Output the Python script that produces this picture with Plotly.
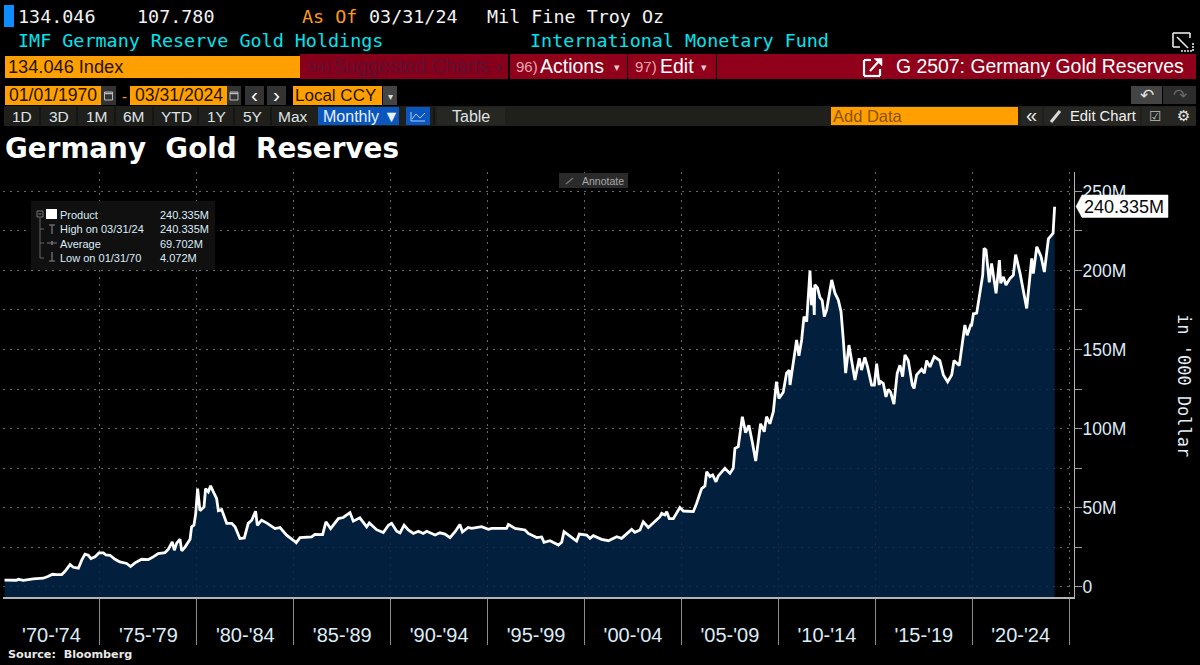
import plotly.graph_objects as go

# ---- data -----------------------------------------------------------------
reserve_years = [
 1970.08,1970.70,1970.79,1971.05,1971.56,1972.08,1972.34,1972.56,1972.77,1973.03,1973.20,1973.46,1973.63,1973.89,
 1974.06,1974.23,1974.40,1974.54,1974.75,1974.95,1975.18,1975.31,1975.52,1975.78,1976.03,1976.38,1976.58,1976.81,
 1977.15,1977.50,1977.75,1978.01,1978.36,1978.53,1978.73,1978.84,1978.96,1979.13,1979.22,1979.39,1979.65,1979.73,
 1979.85,1979.94,1980.04,1980.16,1980.37,1980.45,1980.59,1980.71,1980.85,1981.02,1981.11,1981.28,1981.54,1981.80,
 1981.97,1982.22,1982.45,1982.65,1982.83,1983.03,1983.12,1983.34,1983.60,1984.03,1984.29,1984.63,1984.98,1985.13,
 1985.32,1985.58,1985.92,1986.09,1986.49,1986.66,1986.90,1987.30,1987.55,1987.90,1988.07,1988.41,1988.76,1988.90,
 1989.27,1989.62,1989.88,1990.05,1990.31,
 1990.48,1990.69,1990.91,1991.17,1991.43,1991.68,1991.86,1992.29,1992.54,1992.80,1993.06,1993.32,1993.57,1993.70,
 1994.00,1994.18,1994.69,1995.04,1995.21,1995.98,1996.07,1996.41,1996.93,1997.10,1997.53,1997.79,1997.91,1998.22,
 1998.65,1998.82,1998.94,1999.16,1999.59,1999.73,2000.11,2000.28,2000.45,2000.88,2001.23,2001.66,2001.91,2002.43,
 2002.60,2002.86,2003.03,2003.29,2003.63,2003.89,2003.98,2004.15,2004.24,2004.37,2004.58,2004.92,2005.10,2005.61,
 2005.78,2006.04,2006.21,2006.30,2006.47,2006.61,2006.78,2006.90,2007.24,2007.50,2007.67,2007.76,2007.93,2008.14,
 2008.31,2008.48,2008.65,2008.83,2009.08,2009.27,2009.39,2009.56,2009.74,2009.90,2010.03,
 2010.08,2010.25,2010.42,2010.56,2010.60,2010.85,2010.94,2011.06,2011.20,2011.32,2011.46,2011.63,2011.71,2011.80,
 2011.85,2011.88,2012.02,2012.14,2012.26,2012.37,2012.49,2012.75,2012.92,2013.09,2013.23,2013.35,2013.47,2013.64,
 2013.95,2014.17,2014.29,2014.46,2014.60,2014.81,2014.95,2015.07,2015.20,
 2015.24,2015.41,2015.55,2015.67,2015.79,2015.96,2016.13,2016.27,2016.41,2016.53,2016.70,2016.91,2017.00,2017.13,
 2017.39,2017.53,2017.65,2017.82,2018.04,2018.33,2018.51,2018.73,2018.94,2019.06,2019.33,2019.49,2019.62,2019.74,2019.92,
 2019.97,2020.06,2020.23,2020.40,2020.54,2020.61,2020.71,2020.88,2021.00,2021.23,2021.40,2021.47,2021.61,2021.74,
 2021.95,2022.12,2022.24,2022.47,2022.81,2023.07,2023.15,2023.33,2023.55,2023.72,2023.93,2024.10,2024.17,2024.25]

reserve_values = [
 4.07,4.0,4.6,3.9,4.9,5.3,6.5,7.8,7.6,7.6,9.7,13.9,12.2,11.6,
 16.7,20.5,19.8,17.7,18.8,21.3,21.3,20,19.8,17.3,15.6,14.6,12.7,15,
 17.3,17.1,18.8,20.9,21.5,23.6,28.3,23,27.5,30,22.6,25,30,37.8,
 38.8,46,62,48,50.4,62,60,63.7,60,55.7,48,48.7,40,40,
 37.8,30.4,30.8,40,42,47.7,38.8,42,40.3,36.7,37.3,32.5,29.3,27.8,
 31,31,31.4,33,32.9,41,36.7,43,43.7,46.8,41.4,43.5,37.8,40.3,
 36,34.2,38.8,40,35,
 34,38.9,35.8,33.6,35,33.6,35,32.6,34,33.2,31,34.7,39.3,34.5,
 37.4,36.8,37.9,36.2,36.8,36.8,39.3,36.8,35.8,33.6,31,31.4,28,29,
 26.3,28,34.7,32.6,28.8,33.2,32.6,30.5,32.2,29.9,29,31.5,30.5,36.2,
 34.3,35.8,41,37.4,41,44.2,46.3,45.3,47.4,43,43,50,47.8,47.4,
 52.6,62,63.6,72.7,69.6,70.6,66.3,70,74.8,71.6,74.8,87.4,88.5,107.5,
 97.4,102,91.6,79.4,103,98,107.5,103,110.6,129.6,119,
 120,123,135,137,127.5,150.7,156,146,156,170.8,167.6,200,178,189,
 171.8,191,189,183,181,170.8,175,194,185.6,181.4,174,156,135,152.8,
 130.7,144.4,137,145,139,127.5,127.5,141,127.5,
 130,128.6,120,124.8,123,115.5,135,140,132.8,146.5,143,127.5,125.4,133.9,
 137.5,135,143,139,145.5,143,133.9,129.6,133.9,143,139.8,152.8,165.5,159,165.5,
 165.5,172.5,173,186.6,197,214,213,192.5,204.5,185.5,206.6,192,196,190.8,
 195,197,210,198,176,207.7,198,215,208.8,199,220,222.5,223.5,240.335]

y_ticks = [0, 25, 50, 75, 100, 125, 150, 175, 200, 225, 250]
y_labels = ["0", "", "50M", "", "100M", "", "150M", "", "200M", "", "250M"]
period_bounds = [1975, 1980, 1985, 1990, 1995, 2000, 2005, 2010, 2015, 2020, 2025]
period_centres = [1972.5, 1977.5, 1982.5, 1987.5, 1992.5, 1997.5, 2002.5, 2007.5, 2012.5, 2017.5, 2022.5]
period_labels = ["'70-'74", "'75-'79", "'80-'84", "'85-'89", "'90-'94", "'95-'99",
                 "'00-'04", "'05-'09", "'10-'14", "'15-'19", "'20-'24"]
legend_rows = [("Product", "240.335M"), ("High on 03/31/24", "240.335M"),
               ("Average", "69.702M"), ("Low on 01/31/70", "4.072M")]
AXIS_FLOOR = -6.6
AXIS_TOP = 262.3

# ---- page helpers -----------------------------------------------------------
W, H = 1200, 665
MONO = "DejaVu Sans Mono"
NARROW = "Liberation Sans Narrow, Liberation Sans"
SANS = "Liberation Sans"
shapes, notes = [], []

def fx(p): return p / W
def fy(p): return 1 - p / H

def rect(x0, y0, x1, y1, color, line=None):
    shapes.append(dict(type="rect", xref="paper", yref="paper", x0=fx(x0), x1=fx(x1), y0=fy(y1), y1=fy(y0),
                       fillcolor=color, line=dict(color=line or color, width=1 if line else 0), layer="above"))

def seg(x0, y0, x1, y1, color="#ffffff", width=1.5, dash=None):
    shapes.append(dict(type="line", xref="paper", yref="paper", x0=fx(x0), x1=fx(x1), y0=fy(y0), y1=fy(y1),
                       line=dict(color=color, width=width, dash=dash or "solid"), layer="above"))

def poly(points, color, line_color=None):
    d = "M " + " L ".join(f"{fx(a):.5f},{fy(b):.5f}" for a, b in points) + " Z"
    shapes.append(dict(type="path", xref="paper", yref="paper", path=d, fillcolor=color,
                       line=dict(color=line_color or color, width=0.5), layer="above"))

def text(x, y, s, color="#ffffff", size=16, font=SANS, anchor="left", angle=0):
    notes.append(dict(xref="paper", yref="paper", x=fx(x), y=fy(y), text=s, showarrow=False, xanchor=anchor,
                      yanchor="middle", align=anchor, textangle=angle, borderpad=0, borderwidth=0,
                      font=dict(color=color, size=size, family=font)))

ORANGE, RED, DARKBTN = "#ffa000", "#91001a", "#1f1f1b"

# row 1 / row 2
rect(4, 5, 14, 27, "#0d8dff")
text(18, 16, "134.046", "#f2f2f2", 18.4, MONO)
text(137, 16, "107.780", "#f2f2f2", 18.4, MONO)
text(302, 16, "As Of", "#ff9a1a", 18.4, MONO)
text(369, 16, "03/31/24", "#f2f2f2", 18.4, MONO)
text(487, 16, "Mil Fine Troy Oz", "#f2f2f2", 18.4, MONO)
text(18, 41, "IMF Germany Reserve Gold Holdings", "#00e4ef", 18.4, MONO)
text(530, 41, "International Monetary Fund", "#00e4ef", 18.4, MONO)
for a in [(1173, 33, 1190, 33), (1173, 33, 1173, 47), (1173, 47, 1180, 47), (1190, 33, 1190, 38), (1177, 37, 1188, 48)]:
    seg(*a, "#e8e8e8", 1.6)
seg(1181, 51, 1193, 51, "#e8e8e8", 1.6, "2px,1px")
seg(1193, 43, 1193, 51, "#e8e8e8", 1.6, "2px,1px")

# row 3
rect(5, 56, 300, 78, ORANGE)
text(8, 67, "134.046 Index", "#241400", 18.2, NARROW)
rect(300, 54, 508, 79, "#86001c")
text(309, 66, "94)", "#5e1030", 15, NARROW)
text(333, 66, "Suggested Charts", "#5e1030", 19.5, NARROW)
text(497, 67, "▾", "#5e1030", 11)
rect(510, 54, 627, 79, RED)
text(516, 66, "96)", "#e8a8b0", 15, NARROW)
text(540, 66, "Actions", "#ffffff", 19.5, NARROW)
text(614, 67, "▾", "#e8c8cc", 11)
rect(628, 54, 716, 79, RED)
text(635, 66, "97)", "#e8a8b0", 15, NARROW)
text(660, 66, "Edit", "#ffffff", 19.5, NARROW)
text(701, 67, "▾", "#e8c8cc", 11)
rect(717, 54, 1196, 79, RED)
text(896, 66, "G 2507: Germany Gold Reserves", "#ffffff", 19.4, NARROW)
for a in [(864, 60, 864, 76), (864, 76, 880, 76), (880, 76, 880, 69), (864, 60, 871, 60), (870, 71, 880, 60)]:
    seg(*a, "#ffffff", 2.2)
poly([(874, 58.5), (882, 58.5), (882, 66)], "#ffffff")

# row 4
rect(5, 86, 101, 105, ORANGE)
text(9, 95.5, "01/01/1970", "#241400", 17.6, NARROW)
rect(101, 86, 116, 105, "#333333")
text(124, 96, "-", ORANGE, 15, SANS, "center")
rect(130, 86, 227, 105, ORANGE)
text(135, 95.5, "03/31/2024", "#241400", 17.6, NARROW)
rect(227, 86, 241, 105, "#333333")
for cx in (108.5, 234):
    rect(cx - 4, 92, cx + 4, 100, "#333333", "#bbbbbb")
    seg(cx - 4, 93.5, cx + 4, 93.5, "#bbbbbb", 1.5)
rect(245, 86, 264, 105, "#333333")
text(254.5, 95, "‹", "#ffffff", 21, SANS, "center")
rect(267, 86, 286, 105, "#333333")
text(276.5, 95, "›", "#ffffff", 21, SANS, "center")
rect(293, 86, 382, 105, ORANGE)
text(295, 95.5, "Local CCY", "#241400", 17, NARROW)
rect(383, 86, 397, 105, "#444444")
text(390, 96, "▾", "#dddddd", 10, SANS, "center")
rect(1131, 86, 1162, 104, "#444444")
text(1146.5, 95, "↶", "#e0e0e0", 17, "DejaVu Sans", "center")
rect(1163, 86, 1196, 104, "#2c2c2c")
text(1179.5, 95, "↷", "#666666", 17, "DejaVu Sans", "center")

# row 5
rect(4, 106, 1196, 126, DARKBTN)
for cx, lab in [(22, "1D"), (59, "3D"), (97, "1M"), (134, "6M"), (176, "YTD"), (216, "1Y"), (252, "5Y"), (293, "Max")]:
    text(cx, 116, lab, "#dfe3e8", 15.5, NARROW, "center")
for sx in (40, 77, 115, 153, 198, 234, 271):
    seg(sx, 107, sx, 125, "#0c0c0c", 1)
rect(318, 107, 399, 125, "#0a56bd")
text(323, 116, "Monthly ▼", "#e8f2ff", 16, NARROW)
rect(406, 107, 430, 125, "#0a56bd")
seg(411, 112, 411, 121, "#a8d0ff", 1); seg(411, 121, 425, 121, "#a8d0ff", 1)
seg(412, 119, 416, 114, "#a8d0ff", 1); seg(416, 114, 420, 118, "#a8d0ff", 1); seg(420, 118, 425, 113, "#a8d0ff", 1)
seg(434, 107, 434, 125, "#0c0c0c", 1)
rect(437, 107, 505, 125, "#262622")
text(471, 116, "Table", "#dfe3e8", 16, NARROW, "center")
rect(831, 107, 1018, 125, ORANGE)
text(833, 116, "Add Data", "#8a5200", 16.5, NARROW)
rect(1021, 107, 1042, 125, "#262622")
text(1031.5, 115, "«", "#e8e8e8", 20, SANS, "center")
rect(1044, 107, 1140, 125, "#262622")
seg(1051, 122, 1060, 111, "#d8d8d8", 3)
text(1070, 116, "Edit Chart", "#f0f0f0", 14.8, NARROW)
rect(1142, 107, 1170, 125, "#262622")
text(1155, 116, "☑", "#bbbbbb", 14, "DejaVu Sans", "center")
rect(1170, 107, 1196, 125, "#262622")
text(1183, 116, "⚙", "#e8e8e8", 15, "DejaVu Sans", "center")

# chart title, source
text(5, 148, "<b>Germany&nbsp;&nbsp;Gold&nbsp;&nbsp;Reserves</b>", "#ffffff", 27.8, "DejaVu Sans")
text(8, 654, "<b>Source:&nbsp;&nbsp;Bloomberg</b>", "#e8e8e8", 11.2, "DejaVu Sans")

# annotate button
rect(559, 173, 628, 188, "#2a2a2a")
seg(566, 184, 573, 178, "#777777", 1.3)
text(582, 181, "Annotate", "#a8a8a8", 10.5, SANS)

# legend box
rect(31, 201, 215, 270, "#101010")
rect(37, 211, 43, 217, "#101010", "#777777")
seg(38.5, 214, 41.5, 214, "#888888", 1)
seg(40, 218, 40, 258, "#666666", 1)
for yy in (229, 243, 258):
    seg(40, yy, 44, yy, "#666666", 1)
rect(46, 209, 57, 219, "#ffffff")
seg(52, 225, 52, 234, "#666666", 1.5); seg(49, 225, 55, 225, "#666666", 1.5)
seg(47, 243, 57, 243, "#666666", 1.2); seg(52, 241, 52, 245, "#666666", 2)
seg(52, 252, 52, 261, "#666666", 1.5); seg(49, 261, 55, 261, "#666666", 1.5)
for (lab, val), yy in zip(legend_rows, (215, 229, 243.5, 258)):
    text(60, yy, lab, "#dcecf8", 11, SANS)
    text(160, yy, val, "#dcecf8", 11, SANS)

# last-value flag
poly([(1076, 206.5), (1082, 195), (1168, 195), (1168, 217.5), (1082, 217.5)], "#ffffff")
text(1084, 206.5, f"{reserve_values[-1]:.3f}M", "#0a0a0a", 18, SANS)

# axis title
text(1184, 385, "in '000 Dollar", "#e4eef6", 17, MONO, "center", 90)

# ---- figure -----------------------------------------------------------------
fig = go.Figure()
fig.add_trace(go.Scatter(x=reserve_years, y=[AXIS_FLOOR] * len(reserve_years), mode="lines",
                         line=dict(width=0), hoverinfo="skip", showlegend=False))
fig.add_trace(go.Scatter(x=reserve_years, y=reserve_values, mode="lines", name="Product",
                         fill="tonexty", fillcolor="rgba(2,36,70,0.88)",
                         line=dict(color="#ffffff", width=2.8), showlegend=False))

grid = "rgba(170,170,170,0.62)"
fig.update_layout(
    width=W, height=H, autosize=False, paper_bgcolor="#000000", plot_bgcolor="#000000",
    margin=dict(l=0, r=0, t=0, b=0), showlegend=False, shapes=shapes, annotations=notes,
    font=dict(family=SANS, color="#dcecf8"),
    xaxis=dict(domain=[3 / W, 1074 / W], range=[1970, 2025.25], tickmode="array",
               tickvals=period_centres, ticktext=period_labels, ticks="", showgrid=False, zeroline=False,
               tickfont=dict(size=20, color="#dcecf8", family=SANS), ticklabelstandoff=19,
               showline=True, linecolor="#b4b4b4", linewidth=1.5,
               minor=dict(tickmode="array", tickvals=period_bounds, ticks="outside", ticklen=46, tickwidth=1.2,
                          tickcolor="#8c8c8c", showgrid=True, gridcolor=grid, griddash="2px,5px", gridwidth=1)),
    yaxis=dict(domain=[1 - 597 / H, 1 - 172 / H], range=[AXIS_FLOOR, AXIS_TOP], side="right", tickmode="array",
               tickvals=y_ticks, ticktext=y_labels, ticks="outside", ticklen=7, tickwidth=1, tickcolor="#999999",
               ticklabelstandoff=-3,
               tickfont=dict(size=17.5, color="#dcecf8", family=SANS), showgrid=True, gridcolor=grid,
               griddash="2px,5px", gridwidth=1, zeroline=False, showline=True, linecolor="#b4b4b4", linewidth=1.2),
)
fig.write_html("out.html", config={"displayModeBar": False},
               post_script="document.body.style.margin='0';document.body.style.overflow='hidden';")
